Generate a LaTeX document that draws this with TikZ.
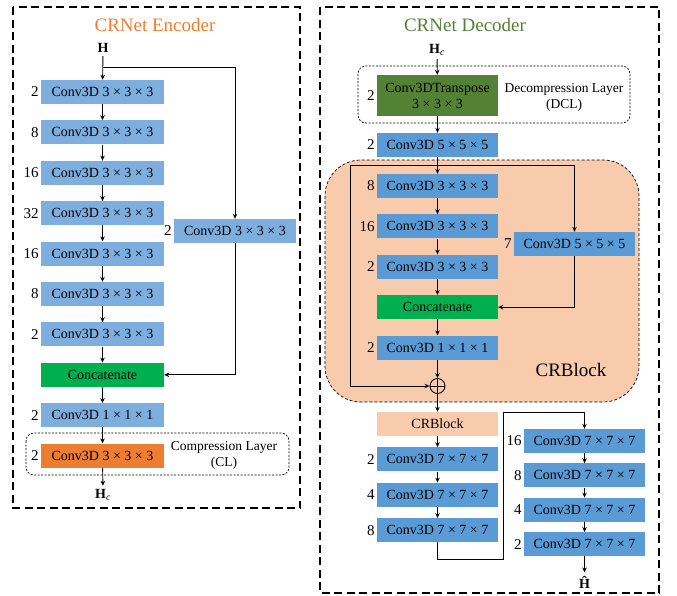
\documentclass[tikz,border=0pt]{standalone}
\usepackage{fontspec}
\setmainfont{Liberation Serif}
\usetikzlibrary{arrows.meta,positioning}
\definecolor{encblue}{RGB}{125,174,222}
\definecolor{decblue}{RGB}{91,155,213}
\definecolor{catgreen}{RGB}{0,176,80}
\definecolor{clorange}{RGB}{237,125,49}
\definecolor{dclgreen}{RGB}{84,130,53}
\definecolor{crpeach}{RGB}{248,203,173}
\newcommand{\convk}[1]{Conv3D #1 × #1 × #1}

\begin{document}
\begin{tikzpicture}[x=1pt, y=-1pt,
  node distance=16pt,
  box/.style={inner sep=0pt, minimum width=123pt, minimum height=24pt,
    font=\fontsize{14}{16}\selectfont},
  enc/.style={box, fill=encblue},
  dec/.style={box, fill=decblue, minimum width=121pt},
  num/.style={font=\fontsize{15}{18}\selectfont, inner sep=2pt},
  title/.style={font=\fontsize{19}{22}\selectfont},
  outer/.style={draw, dash pattern=on 8pt off 4.5pt, line width=1.1pt},
  layer/.style={draw, dash pattern=on 2pt off 1.5pt, rounded corners=8pt, line width=0.7pt},
  arrow/.style={-{Stealth[length=5pt,width=4.5pt]}, line width=0.9pt}]
\useasboundingbox (0,0) rectangle (677,595);
% encoder
\draw[outer] (13,7) rectangle (300,508);
\node[title, text=clorange] (enctitle) at (155,25) {CRNet Encoder};
\node[font=\fontsize{14}{16}\selectfont\bfseries] (H) at (103,48) {H};
\coordinate (esplit) at (103,67);
\node[enc, label={[num]left:2}] (e1) at (102.5,92) {\convk{3}};
\node[enc, label={[num]left:8}, below=of e1] (e2) {\convk{3}};
\node[enc, label={[num]left:16}, below=of e2] (e3) {\convk{3}};
\node[enc, label={[num]left:32}, below=of e3] (e4) {\convk{3}};
\node[enc, label={[num]left:16}, below=of e4] (e5) {\convk{3}};
\node[enc, label={[num]left:8}, below=of e5] (e6) {\convk{3}};
\node[enc, label={[num]left:2}, below=of e6] (e7) {\convk{3}};
\node[enc, fill=catgreen, below=of e7] (ecat) {Concatenate};
\node[enc, label={[num]left:2}, below=of ecat] (e8) {\convk{1}};
\node[enc, fill=clorange, label={[num]left:2}, below=of e8] (ecl) {\convk{3}};
\node[enc, label={[num]left:2}, minimum width=122pt] (eside) at (235,231) {\convk{3}};
\draw[layer] (26,433) rectangle (289,475);
\node[font=\fontsize{13.5}{16}\selectfont, align=center] (cltext) at (224,455) {Compression Layer\\(CL)};
\node[font=\fontsize{14}{16}\selectfont] (Hc) at (103,495) {\textbf{H}\textsubscript{\textit{c}}};
\draw[arrow] (H) -- (e1);
\foreach \a/\b in {e1/e2,e2/e3,e3/e4,e4/e5,e5/e6,e6/e7,e7/ecat,ecat/e8,e8/ecl,ecl/Hc}
  \draw[arrow] (\a) -- (\b);
\draw[arrow] (esplit) -| (eside);
\draw[arrow] (eside) |- (ecat);
% decoder
\draw[outer] (320,7) rectangle (659,593);
\node[title, text=dclgreen] (dectitle) at (465,25) {CRNet Decoder};
\node[font=\fontsize{14}{16}\selectfont] (dHc) at (437,50) {\textbf{H}\textsubscript{\textit{c}}};
\draw[layer] (358,66) rectangle (630,123);
\node[dec, fill=dclgreen, minimum height=41pt, align=center, label={[num]left:2}] (dtr) at (437.5,95.5)
  {Conv3DTranspose\\3 × 3 × 3};
\node[font=\fontsize{13.5}{16}\selectfont, align=center] (dcltext) at (564,97) {Decompression Layer\\(DCL)};
\node[dec, label={[num]left:2}] (d5) at (437.5,145) {\convk{5}};
% residual block
\draw[outer, fill=crpeach, line width=0.7pt, dash pattern=on 3pt off 2pt, rounded corners=36pt] (325,160) rectangle (639,402);
\coordinate (skip) at (437.5,165);
\coordinate (skipl) at (350,165);
\node[dec, label={[num]left:8}] (b1) at (437.5,186) {\convk{3}};
\node[dec, label={[num]left:16}, below=of b1] (b2) {\convk{3}};
\node[dec, label={[num]left:2}, below=of b2] (b3) {\convk{3}};
\node[dec, fill=catgreen, below=of b3] (bcat) {Concatenate};
\node[dec, label={[num]left:2}, below=of bcat] (b4) {\convk{1}};
\node[dec, label={[num]left:7}] (bside) at (574.5,244) {\convk{5}};
\node[circle, draw, line width=0.9pt, minimum size=15pt, inner sep=0pt] (oplus) at (437.5,386) {};
\draw[line width=0.9pt] (oplus.north) -- (oplus.south) (oplus.west) -- (oplus.east);
\node[title] (crlabel) at (571,370) {CRBlock};
\draw[arrow] (dHc) -- (dtr);
\draw[arrow] (dtr) -- (d5);
\foreach \a/\b in {d5/b1,b1/b2,b2/b3,b3/bcat,bcat/b4,b4/oplus}
  \draw[arrow] (\a) -- (\b);
\draw[arrow] (skip) -| (bside);
\draw[arrow] (bside) |- (bcat);
\draw[arrow] (skip) -- (skipl) |- (oplus);
% tail
\node[dec, fill=crpeach] (crb) at (437.5,424) {CRBlock};
\node[dec, label={[num]left:2}, below=11pt of crb] (f1) {\convk{7}};
\node[dec, label={[num]left:4}, below=11pt of f1] (f2) {\convk{7}};
\node[dec, label={[num]left:8}, below=11pt of f2] (f3) {\convk{7}};
\node[dec, label={[num]left:16}] (g1) at (584.5,441) {\convk{7}};
\node[dec, label={[num]left:8}, below=10pt of g1] (g2) {\convk{7}};
\node[dec, label={[num]left:4}, below=10pt of g2] (g3) {\convk{7}};
\node[dec, label={[num]left:2}, below=10pt of g3] (g4) {\convk{7}};
\node[font=\fontsize{14}{16}\selectfont\bfseries] (Hhat) at (584.5,582) {Ĥ};
\coordinate (lowturn) at (503,559);
\coordinate (highturn) at (503,412);
\draw[arrow] (oplus) -- (crb);
\foreach \a/\b in {crb/f1,f1/f2,f2/f3,g1/g2,g2/g3,g3/g4,g4/Hhat}
  \draw[arrow] (\a) -- (\b);
\draw[arrow] (f3) |- (lowturn) -- (highturn) -| (g1);
\end{tikzpicture}
\end{document}
